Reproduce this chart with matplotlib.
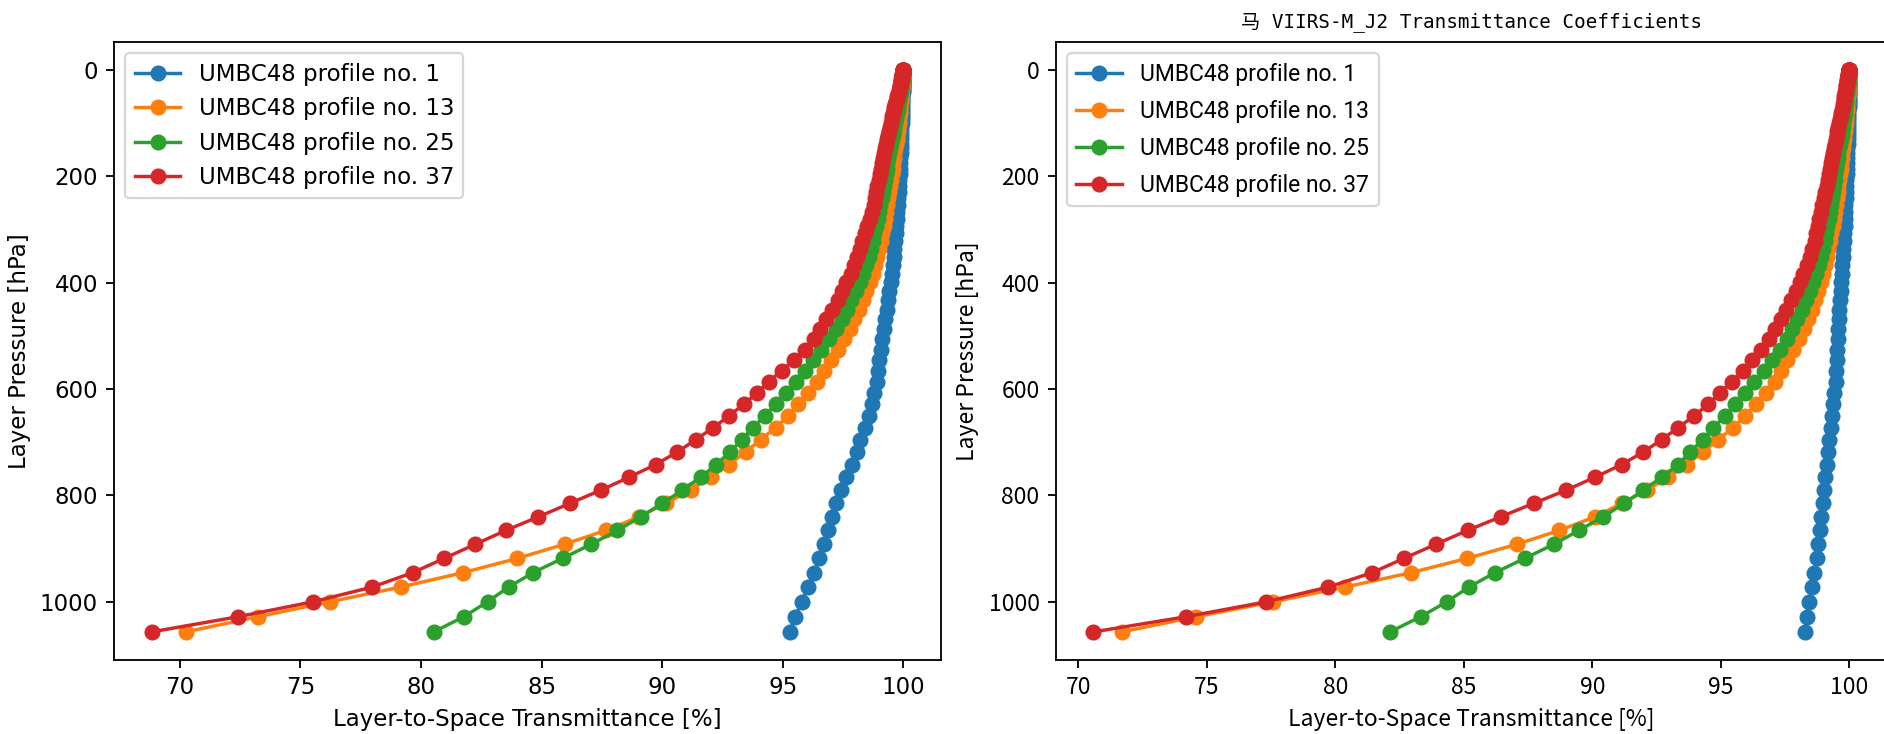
import matplotlib
matplotlib.use("Agg")
import matplotlib.pyplot as plt

# layer pressures [hPa] of the UMBC48 profiles
PRESSURE = [0.0106, 0.0273, 0.0577, 0.107, 0.181, 0.285, 0.426, 0.610, 0.845, 1.136,
            1.492, 1.920, 2.427, 3.020, 3.708, 4.499, 5.399, 6.417, 7.561, 8.839,
            10.26, 11.83, 13.55, 15.44, 17.51, 19.75, 22.19, 24.82, 27.65, 30.70,
            33.96, 37.45, 41.18, 45.14, 49.36, 53.83, 58.56, 63.56, 68.83, 74.39,
            80.24, 86.38, 92.82, 99.57, 106.6, 114.0, 121.7, 129.7, 138.1, 146.8,
            155.9, 165.3, 175.0, 185.2, 195.7, 206.5, 217.7, 229.3, 241.3, 253.7,
            266.4, 279.6, 293.1, 307.1, 321.4, 336.1, 351.3, 366.8, 382.8, 399.2,
            416.0, 433.2, 450.8, 468.8, 487.3, 506.2, 525.5, 545.2, 565.3, 585.9,
            606.9, 628.3, 650.2, 672.4, 695.1, 718.2, 741.8, 765.7, 790.1, 814.9,
            840.1, 865.7, 891.7, 918.2, 945.1, 972.3, 1000.0, 1028.1, 1056.6]

PROFILES = [1, 13, 25, 37]

# left panel, layer-to-space transmittance [%]
LEFT_P1 = [100.0] * 19 + [
    99.99, 99.99, 99.99, 99.99, 99.99, 99.98, 99.98, 99.98, 99.98, 99.98, 99.97,
    99.97, 99.97, 99.97, 99.96, 99.96, 99.96, 99.96, 99.95, 99.95, 99.95,
    99.94, 99.94, 99.93, 99.93, 99.92, 99.92, 99.91, 99.90, 99.90, 99.89,
    99.88, 99.87, 99.86, 99.85, 99.84, 99.83, 99.82, 99.80, 99.79, 99.77,
    99.75, 99.73, 99.71, 99.69, 99.66, 99.63, 99.60, 99.56, 99.52, 99.47,
    99.42, 99.37, 99.31, 99.25, 99.19, 99.12, 99.06, 99.00, 98.96, 98.91,
    98.80, 98.70, 98.56, 98.40, 98.22, 98.07, 97.88, 97.64, 97.42, 97.20,
    97.03, 96.87, 96.70, 96.51, 96.29, 96.05, 95.78, 95.52, 95.28]
LEFT_P13 = [100.0] * 10 + [
    99.99, 99.99, 99.99, 99.99, 99.99, 99.99, 99.99, 99.98, 99.98, 99.98,
    99.97, 99.97, 99.97, 99.96, 99.96, 99.96, 99.95, 99.95, 99.94, 99.94,
    99.93, 99.92, 99.92, 99.91, 99.90, 99.89, 99.88, 99.87, 99.86, 99.85,
    99.84, 99.83, 99.81, 99.80, 99.78, 99.76, 99.74, 99.72, 99.69, 99.66,
    99.63, 99.60, 99.58, 99.55, 99.52, 99.49, 99.46, 99.42, 99.38, 99.34,
    99.29, 99.24, 99.19, 99.13, 99.07, 99.00, 98.92, 98.83, 98.72, 98.60,
    98.46, 98.31, 98.14, 97.96, 97.77, 97.55, 97.27, 96.98, 96.70, 96.40,
    96.05, 95.63, 95.22, 94.70, 94.08, 93.46, 92.77, 92.01, 91.18, 90.14,
    89.04, 87.66, 85.95, 84.00, 81.75, 79.15, 76.21, 73.24, 70.25]
LEFT_P25 = [100.0] * 10 + [
    99.99, 99.99, 99.99, 99.99, 99.99, 99.98, 99.98, 99.98, 99.97, 99.97,
    99.96, 99.96, 99.95, 99.95, 99.94, 99.94, 99.93, 99.92, 99.91, 99.90,
    99.89, 99.88, 99.87, 99.86, 99.84, 99.83, 99.81, 99.79, 99.78, 99.76,
    99.73, 99.71, 99.69, 99.66, 99.63, 99.60, 99.56, 99.52, 99.48, 99.44,
    99.40, 99.37, 99.34, 99.30, 99.27, 99.24, 99.20, 99.16, 99.10, 99.05,
    98.99, 98.93, 98.86, 98.79, 98.72, 98.65, 98.56, 98.45, 98.32, 98.18,
    98.02, 97.84, 97.65, 97.45, 97.20, 96.92, 96.60, 96.27, 95.91, 95.53,
    95.14, 94.70, 94.25, 93.76, 93.29, 92.81, 92.24, 91.59, 90.83, 90.00,
    89.11, 88.14, 87.06, 85.87, 84.65, 83.63, 82.76, 81.77, 80.53]
LEFT_P37 = [100.0] * 9 + [
    99.99,
    99.99, 99.99, 99.99, 99.98, 99.98, 99.98, 99.97, 99.97, 99.96, 99.96,
    99.95, 99.94, 99.94, 99.93, 99.92, 99.91, 99.90, 99.89, 99.87, 99.86,
    99.84, 99.82, 99.80, 99.77, 99.75, 99.72, 99.69, 99.66, 99.62, 99.60,
    99.57, 99.54, 99.51, 99.48, 99.45, 99.41, 99.38, 99.34, 99.29, 99.24,
    99.20, 99.15, 99.11, 99.06, 99.02, 98.97, 98.92, 98.87, 98.82, 98.77,
    98.70, 98.61, 98.51, 98.41, 98.30, 98.20, 98.08, 97.95, 97.82, 97.64,
    97.46, 97.27, 97.04, 96.79, 96.56, 96.30, 95.92, 95.45, 94.95, 94.42,
    93.94, 93.39, 92.77, 92.12, 91.39, 90.63, 89.73, 88.63, 87.45, 86.17,
    84.87, 83.52, 82.25, 80.97, 79.66, 77.97, 75.52, 72.41, 68.83]

# right panel (VIIRS-M J2)
RIGHT_P1 = [100.0] * 25 + [
    99.99, 99.99, 99.99, 99.99, 99.99,
    99.98, 99.98, 99.98, 99.98, 99.98, 99.98, 99.97, 99.97, 99.97, 99.96,
    99.96, 99.96, 99.95, 99.95, 99.95, 99.94, 99.94, 99.93, 99.93, 99.92,
    99.92, 99.91, 99.90, 99.90, 99.89, 99.88, 99.87, 99.86, 99.85, 99.84,
    99.83, 99.82, 99.81, 99.79, 99.78, 99.76, 99.74, 99.72, 99.70, 99.67,
    99.65, 99.62, 99.60, 99.58, 99.56, 99.55, 99.53, 99.51, 99.49, 99.46,
    99.41, 99.36, 99.31, 99.27, 99.22, 99.17, 99.11, 99.05, 99.00, 98.96,
    98.91, 98.85, 98.79, 98.72, 98.63, 98.54, 98.44, 98.34, 98.27]
RIGHT_P13 = [100.0] * 12 + [
    99.99, 99.99, 99.99, 99.99, 99.99, 99.98, 99.98, 99.98,
    99.98, 99.98, 99.98, 99.97, 99.97, 99.97, 99.96, 99.96, 99.96, 99.95,
    99.95, 99.94, 99.94, 99.93, 99.93, 99.92, 99.91, 99.91, 99.90, 99.89,
    99.88, 99.87, 99.86, 99.85, 99.83, 99.82, 99.80, 99.78, 99.76, 99.74,
    99.72, 99.70, 99.67, 99.65, 99.62, 99.60, 99.57, 99.54, 99.51, 99.47,
    99.43, 99.39, 99.34, 99.29, 99.24, 99.18, 99.11, 99.04, 98.96, 98.88,
    98.79, 98.67, 98.54, 98.40, 98.24, 98.05, 97.82, 97.57, 97.33, 97.10,
    96.75, 96.36, 95.93, 95.46, 94.90, 94.29, 93.67, 92.95, 92.11, 91.14,
    90.10, 88.71, 87.06, 85.13, 82.94, 80.37, 77.56, 74.57, 71.68]
RIGHT_P25 = [100.0] * 10 + [
    99.99, 99.99, 99.99, 99.99, 99.99, 99.99, 99.99, 99.98, 99.98, 99.98,
    99.97, 99.97, 99.96, 99.96, 99.95, 99.95, 99.94, 99.94, 99.93, 99.92,
    99.92, 99.91, 99.90, 99.89, 99.88, 99.87, 99.86, 99.85, 99.84, 99.82,
    99.81, 99.79, 99.78, 99.76, 99.74, 99.72, 99.70, 99.67, 99.64, 99.61,
    99.57, 99.54, 99.51, 99.48, 99.45, 99.42, 99.39, 99.36, 99.32, 99.28,
    99.24, 99.19, 99.14, 99.09, 99.04, 98.97, 98.89, 98.80, 98.70, 98.59,
    98.46, 98.31, 98.15, 97.97, 97.77, 97.55, 97.30, 97.00, 96.66, 96.28,
    95.93, 95.54, 95.16, 94.70, 94.29, 93.79, 93.34, 92.69, 91.98, 91.22,
    90.42, 89.47, 88.50, 87.37, 86.21, 85.19, 84.33, 83.31, 82.12]
RIGHT_P37 = [100.0] * 9 + [
    99.99,
    99.99, 99.99, 99.99, 99.98, 99.98, 99.98, 99.97, 99.97, 99.96, 99.96,
    99.95, 99.95, 99.94, 99.93, 99.92, 99.91, 99.90, 99.89, 99.88, 99.87,
    99.86, 99.85, 99.83, 99.82, 99.80, 99.79, 99.77, 99.75, 99.73, 99.71,
    99.68, 99.66, 99.63, 99.60, 99.57, 99.53, 99.50, 99.46, 99.42, 99.38,
    99.34, 99.30, 99.27, 99.23, 99.20, 99.16, 99.11, 99.06, 99.00, 98.94,
    98.88, 98.82, 98.76, 98.70, 98.64, 98.56, 98.46, 98.34, 98.21, 98.07,
    97.90, 97.72, 97.53, 97.33, 97.12, 96.88, 96.56, 96.22, 95.84, 95.42,
    94.96, 94.51, 93.95, 93.34, 92.69, 91.98, 91.14, 90.10, 88.97, 87.71,
    86.43, 85.14, 83.91, 82.67, 81.43, 79.72, 77.30, 74.18, 70.58]

TITLE = "马 VIIRS-M_J2 Transmittance Coefficients"
XLABEL = "Layer-to-Space Transmittance [%]"
YLABEL = "Layer Pressure [hPa]"

CJK = ["Noto Sans CJK SC", "DejaVu Sans"]
MONO = ["DejaVu Sans Mono", "Noto Sans CJK SC"]

W, H, DPI = 1884, 734, 165
fig = plt.figure(figsize=(W / DPI, H / DPI), dpi=DPI)
ax1 = fig.add_axes([114 / W, 74 / H, 827 / W, 618 / H])
ax2 = fig.add_axes([1055.6 / W, 74 / H, 831.7 / W, 618 / H])

for vals, prof in zip([LEFT_P1, LEFT_P13, LEFT_P25, LEFT_P37], PROFILES):
    ax1.plot(vals, PRESSURE, "o-", label="UMBC48 profile no. %d" % prof)
ax1.invert_yaxis()
ax1.set_xlabel(XLABEL)
ax1.set_ylabel(YLABEL)
ax1.legend(loc="upper left")

for vals, prof in zip([RIGHT_P1, RIGHT_P13, RIGHT_P25, RIGHT_P37], PROFILES):
    ax2.plot(vals, PRESSURE, "o-", label="UMBC48 profile no. %d" % prof)
ax2.invert_yaxis()
ax2.set_xlabel(XLABEL, family=CJK)
ax2.set_ylabel(YLABEL, family=CJK)
ax2.tick_params(labelfontfamily="Noto Sans CJK SC")
ax2.legend(loc="upper left", prop={"family": ["Roboto", "DejaVu Sans"]},
           labelspacing=0.62)
ax2.set_title(TITLE, family=MONO, fontsize=8.4)

fig.savefig("out.png", dpi=DPI)
